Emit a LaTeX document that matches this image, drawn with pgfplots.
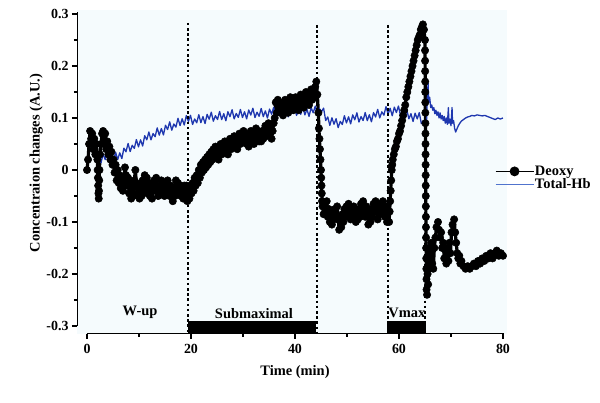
\documentclass[border=0pt]{standalone}
\usepackage{pgfplots}
\pgfplotsset{compat=1.18}
\usepackage{pgfplotstable}
\usepackage{fontspec}
\setmainfont{Liberation Serif}
\definecolor{bgtint}{RGB}{245,251,253}
\definecolor{hbblue}{RGB}{30,55,175}
\definecolor{legblue}{RGB}{80,115,205}

\pgfplotstableread{
t v
0 0.00
0.2 0.02
0.4 0.05
0.6 0.075
0.8 0.06
1.0 0.07
1.2 0.04
1.4 0.06
1.6 0.03
1.8 0.05
2.0 0.02
2.05 0.0
2.1 -0.015
2.15 -0.03
2.2 -0.045
2.25 -0.055
2.3 -0.04
2.35 -0.02
2.4 0.0
2.5 0.03
2.7 0.05
2.9 0.07
3.1 0.075
3.3 0.05
3.5 0.07
3.7 0.04
3.9 0.055
4.1 0.03
4.3 0.045
4.5 0.02
4.7 0.035
4.9 0.01
5.1 0.02
5.3 -0.005
5.5 0.01
5.7 -0.02
5.9 0.0
6.1 -0.025
6.3 -0.01
6.5 -0.035
6.7 -0.015
6.9 -0.04
7.1 -0.02
7.3 0.005
7.5 -0.01
7.7 -0.03
7.9 -0.015
8.1 -0.045
8.3 -0.025
8.5 -0.055
8.7 -0.03
8.9 -0.05
9.1 -0.02
9.3 0.0
9.5 -0.025
9.7 -0.045
9.9 -0.03
10.1 -0.055
10.3 -0.035
10.5 -0.05
10.7 -0.02
10.9 -0.04
11.1 -0.01
11.3 -0.03
11.5 -0.015
11.7 -0.045
11.9 -0.025
12.1 -0.05
12.3 -0.03
12.5 -0.055
12.7 -0.035
12.9 -0.02
13.1 -0.04
13.3 -0.015
13.5 -0.035
13.7 -0.05
13.9 -0.03
14.1 -0.045
14.3 -0.02
14.5 -0.04
14.7 -0.025
14.9 -0.05
15.1 -0.03
15.3 -0.045
15.5 -0.02
15.7 -0.035
15.9 -0.05
16.1 -0.03
16.3 -0.04
16.5 -0.06
16.7 -0.04
16.9 -0.05
17.1 -0.02
17.3 -0.04
17.5 -0.025
17.7 -0.045
17.9 -0.03
18.1 -0.05
18.3 -0.035
18.5 -0.055
18.7 -0.03
18.9 -0.05
19.1 -0.03
19.3 -0.06
19.5 -0.04
19.7 -0.055
19.9 -0.03
20.1 -0.045
20.3 -0.025
20.5 -0.04
20.7 -0.015
20.9 -0.03
21.1 -0.01
21.3 -0.025
21.5 0.0
21.7 -0.015
21.9 0.01
22.1 -0.005
22.3 0.015
22.5 0.0
22.7 0.02
22.9 0.005
23.1 0.025
23.3 0.01
23.5 0.03
23.7 0.015
23.9 0.035
24.1 0.02
24.3 0.04
24.5 0.025
24.7 0.045
24.9 0.025
25.1 0.04
25.3 0.02
25.5 0.035
25.7 0.05
25.9 0.03
26.1 0.05
26.3 0.035
26.5 0.055
26.7 0.04
26.9 0.05
27.1 0.03
27.3 0.045
27.5 0.06
27.7 0.04
27.9 0.06
28.1 0.045
28.3 0.065
28.5 0.05
28.7 0.06
28.9 0.04
29.1 0.055
29.3 0.07
29.5 0.05
29.7 0.07
29.9 0.055
30.1 0.075
30.3 0.055
30.5 0.07
30.7 0.05
30.9 0.065
31.1 0.045
31.3 0.06
31.5 0.075
31.7 0.055
31.9 0.07
32.1 0.05
32.3 0.065
32.5 0.08
32.7 0.06
32.9 0.075
33.1 0.055
33.3 0.07
33.5 0.055
33.7 0.075
33.9 0.06
34.1 0.07
34.3 0.085
34.5 0.065
34.7 0.08
34.9 0.09
35.1 0.07
35.3 0.08
35.5 0.06
35.7 0.075
35.9 0.09
36.1 0.1
36.3 0.13
36.5 0.11
36.7 0.135
36.9 0.115
37.1 0.13
37.3 0.11
37.5 0.125
37.7 0.105
37.9 0.12
38.1 0.135
38.3 0.115
38.5 0.13
38.7 0.11
38.9 0.125
39.1 0.14
39.3 0.12
39.5 0.135
39.7 0.115
39.9 0.13
40.1 0.14
40.3 0.12
40.5 0.135
40.7 0.115
40.9 0.13
41.1 0.145
41.3 0.125
41.5 0.14
41.7 0.12
41.9 0.135
42.1 0.15
42.3 0.13
42.5 0.145
42.7 0.125
42.9 0.14
43.1 0.155
43.3 0.135
43.5 0.15
43.7 0.14
43.9 0.16
44.1 0.17
44.3 0.145
44.5 0.11
44.6 0.08
44.7 0.06
44.8 0.04
44.9 0.02
45.0 0.0
45.05 -0.015
45.1 -0.03
45.15 -0.045
45.2 -0.06
45.3 -0.07
45.5 -0.085
45.7 -0.065
45.9 -0.08
46.1 -0.06
46.3 -0.09
46.5 -0.075
46.7 -0.1
46.9 -0.08
47.1 -0.105
47.3 -0.085
47.5 -0.095
47.7 -0.075
47.9 -0.09
48.1 -0.07
48.3 -0.095
48.5 -0.115
48.7 -0.09
48.9 -0.11
49.1 -0.085
49.3 -0.1
49.5 -0.075
49.7 -0.09
49.9 -0.07
50.1 -0.085
50.3 -0.065
50.5 -0.08
50.7 -0.095
50.9 -0.075
51.1 -0.09
51.3 -0.07
51.5 -0.085
51.7 -0.1
51.9 -0.08
52.1 -0.095
52.3 -0.075
52.5 -0.09
52.7 -0.065
52.9 -0.08
53.1 -0.06
53.3 -0.075
53.5 -0.09
53.7 -0.07
53.9 -0.085
54.1 -0.105
54.3 -0.08
54.5 -0.1
54.7 -0.075
54.9 -0.09
55.1 -0.065
55.3 -0.08
55.5 -0.06
55.7 -0.075
55.9 -0.095
56.1 -0.07
56.3 -0.085
56.5 -0.065
56.7 -0.08
56.9 -0.06
57.1 -0.075
57.3 -0.09
57.5 -0.07
57.7 -0.1
57.9 -0.08
58.1 -0.1
58.2 -0.08
58.3 -0.06
58.4 -0.04
58.5 -0.02
58.6 0.0
58.7 0.01
58.8 0.02
59.0 0.03
59.2 0.04
59.4 0.045
59.6 0.055
59.8 0.06
60.0 0.07
60.2 0.075
60.4 0.085
60.6 0.095
60.8 0.105
61.0 0.115
61.2 0.125
61.4 0.14
61.6 0.15
61.8 0.16
62.0 0.17
62.2 0.18
62.4 0.19
62.6 0.2
62.8 0.21
63.0 0.22
63.2 0.23
63.4 0.24
63.6 0.25
63.8 0.255
64.0 0.26
64.2 0.27
64.4 0.275
64.6 0.28
64.8 0.27
65.00 0.25
65.01 0.23
65.02 0.21
65.03 0.19
65.04 0.17
65.05 0.15
65.06 0.13
65.07 0.11
65.08 0.09
65.09 0.07
65.10 0.05
65.11 0.03
65.12 0.01
65.13 -0.01
65.14 -0.03
65.15 -0.05
65.16 -0.07
65.17 -0.09
65.18 -0.11
65.2 -0.13
65.22 -0.15
65.24 -0.17
65.26 -0.19
65.28 -0.21
65.3 -0.23
65.4 -0.24
65.5 -0.2
65.6 -0.22
65.7 -0.17
65.8 -0.19
65.9 -0.15
66.0 -0.17
66.2 -0.14
66.4 -0.18
66.6 -0.19
66.8 -0.15
67.0 -0.13
67.2 -0.11
67.5 -0.1
67.7 -0.115
67.9 -0.13
68.1 -0.12
68.3 -0.15
68.5 -0.14
68.7 -0.17
68.9 -0.15
69.1 -0.18
69.3 -0.16
69.5 -0.175
69.7 -0.14
69.9 -0.16
70.1 -0.12
70.3 -0.105
70.6 -0.095
70.8 -0.12
71.0 -0.14
71.2 -0.16
71.4 -0.17
71.6 -0.165
71.8 -0.18
72.0 -0.175
72.4 -0.185
72.8 -0.19
73.2 -0.185
73.6 -0.19
74.0 -0.185
74.4 -0.18
74.8 -0.185
75.2 -0.175
75.6 -0.18
76.0 -0.17
76.4 -0.175
76.8 -0.165
77.2 -0.17
77.6 -0.16
78.0 -0.17
78.4 -0.16
78.8 -0.155
79.2 -0.165
79.6 -0.16
80.0 -0.165
}\deoxy

\pgfplotstableread{
t v
1.5 0.034
1.9 0.018
2.3 0.028
2.7 0.014
3.1 0.031
3.5 0.020
3.9 0.033
4.3 0.015
4.7 0.024
5.1 0.017
5.5 0.034
5.9 0.020
6.3 0.033
6.7 0.022
7.1 0.042
7.5 0.035
7.9 0.051
8.3 0.0355
8.7 0.0475
9.1 0.0415
9.5 0.0585
9.9 0.0445
10.3 0.058
10.7 0.046
11.1 0.066
11.5 0.058
11.9 0.073
12.3 0.058
12.7 0.070
13.1 0.064
13.5 0.081
13.9 0.067
14.3 0.0797
14.7 0.0674
15.1 0.0861
15.5 0.0778
15.9 0.0926
16.3 0.0765
16.7 0.0885
17.1 0.0825
17.5 0.0995
17.9 0.0855
18.3 0.0985
18.7 0.0865
19.1 0.1047
19.5 0.0935
19.9 0.1053
20.3 0.0875
20.7 0.0981
21.1 0.0908
21.5 0.1064
21.9 0.091
22.3 0.1027
22.7 0.0893
23.1 0.107
23.5 0.0976
23.9 0.1112
24.3 0.0939
24.7 0.1045
25.1 0.0971
25.5 0.1125
25.9 0.0969
26.3 0.1083
26.7 0.0947
27.1 0.1121
27.5 0.1025
27.9 0.1159
28.3 0.0983
28.7 0.1087
29.1 0.1011
29.5 0.1165
29.9 0.1009
30.3 0.1121
30.7 0.0983
31.1 0.1154
31.5 0.1056
31.9 0.1188
32.3 0.1009
32.7 0.1111
33.1 0.1032
33.5 0.1184
33.9 0.1026
34.3 0.1137
34.7 0.0999
35.1 0.1171
35.5 0.1073
35.9 0.1205
36.3 0.1028
36.7 0.113
37.1 0.1053
37.5 0.1205
37.9 0.1047
38.3 0.116
38.7 0.1022
39.1 0.1195
39.5 0.1097
39.9 0.1229
40.3 0.105
40.7 0.115
41.1 0.107
41.5 0.122
41.9 0.106
42.3 0.117
42.7 0.103
43.1 0.120
43.5 0.110
43.9 0.123
44.3 0.105
44.7 0.118
45.1 0.112
45.5 0.119
45.9 0.095
46.3 0.102
46.7 0.0858
47.1 0.1004
47.5 0.088
47.9 0.0986
48.3 0.0815
48.7 0.0935
49.1 0.0875
49.5 0.1045
49.9 0.0905
50.3 0.1023
50.7 0.0887
51.1 0.1061
51.5 0.0965
51.9 0.1099
52.3 0.0923
52.7 0.1027
53.1 0.0951
53.5 0.1105
53.9 0.0949
54.3 0.1063
54.7 0.0927
55.1 0.1104
55.5 0.102
55.9 0.1166
56.3 0.1002
56.7 0.1118
57.1 0.1054
57.5 0.122
57.9 0.1076
58.3 0.1187
58.7 0.1043
59.1 0.1209
59.5 0.1105
59.9 0.1231
60.3 0.1038
60.7 0.1122
61.1 0.1026
61.5 0.116
61.9 0.0984
62.3 0.1083
62.7 0.0933
63.1 0.1093
63.5 0.0983
63.9 0.1103
64.3 0.089
64.7 0.095
65.1 0.088
65.3 0.095
65.5 0.15
65.6 0.167
65.7 0.13
65.9 0.14
66.1 0.12
66.3 0.125
66.5 0.115
66.7 0.12
66.9 0.108
67.1 0.115
67.3 0.105
67.5 0.112
67.7 0.1
67.9 0.11
68.1 0.098
68.3 0.105
68.5 0.095
68.7 0.103
68.9 0.09
69.1 0.1
69.3 0.088
69.5 0.12
69.6 0.09
69.8 0.098
70.0 0.085
70.2 0.12
70.3 0.09
70.5 0.095
70.7 0.08
70.9 0.073
71.1 0.078
71.4 0.085
71.7 0.09
72.0 0.094
72.4 0.097
72.8 0.1
73.2 0.102
73.6 0.103
74.0 0.105
74.5 0.104
75.0 0.106
75.5 0.105
76.0 0.104
76.5 0.105
77.0 0.103
77.5 0.101
78.0 0.099
78.5 0.097
79.0 0.1
79.5 0.098
80.0 0.1
}\totalhb

\begin{document}
\begin{tikzpicture}[font=\fontsize{14.5}{16}\selectfont\bfseries]
\path[use as bounding box] (0,0) rectangle (600bp,403bp);
\begin{axis}[
  at={(77bp,69bp)}, anchor=south west,
  scale only axis, width=430bp, height=324bp,
  xmin=-1.923, xmax=80.77, ymin=-0.3154, ymax=0.3077,
  axis line style={draw=none},
  axis background/.style={fill=bgtint},
  xtick={0,20,40,60,80}, xticklabels={0,20,40,60,80},
  minor xtick={10,30,50,70},
  ytick={-0.3,-0.2,-0.1,0,0.1,0.2,0.3},
  yticklabels={-0.3,-0.2,-0.1,0,0.1,0.2,0.3},
  minor ytick={-0.25,-0.15,-0.05,0.05,0.15,0.25},
  xtick pos=bottom, ytick pos=left, tick align=outside,
  major tick length=5bp, minor tick length=3bp,
  every tick/.style={black, line width=1.3bp},
  xticklabel style={font=\fontsize{14}{16}\selectfont\bfseries, yshift=-2bp},
  yticklabel style={font=\fontsize{14}{16}\selectfont\bfseries},
  xlabel={Time (min)},
  ylabel={Concentraion changes (A.U.)},
  xlabel style={at={(axis description cs:0.507,-0.116)}, anchor=center},
  ylabel style={at={(axis description cs:-0.095,0.528)}, anchor=center},
  legend style={at={(axis description cs:0.972,0.481)}, anchor=west,
    draw=none, fill=none, inner sep=0pt, row sep=0pt,
    font=\fontsize{14.5}{16}\selectfont\bfseries,
    nodes={inner sep=1bp}},
  legend cell align=left,
  legend image code/.code={\draw[mark repeat=2,mark phase=2,#1] plot coordinates {(0bp,0bp) (19bp,0bp) (38bp,0bp)};},
]
% Deoxy
\addplot[black, line width=3.2bp, line join=round, line cap=round, mark=*, mark size=3.7bp, mark options={fill=black, draw=black, line width=0.5bp}, forget plot] table[x=t,y=v] {\deoxy};
% Total-Hb
\addplot[hbblue, line width=1.3bp, line join=round, forget plot] table[x=t,y=v] {\totalhb};
% axis lines
\draw[black, line width=2bp] (axis cs:-1.923,-0.3) -- (axis cs:-1.923,0.304);
\draw[black, line width=2bp] (axis cs:0,-0.3154) -- (axis cs:80.1,-0.3154);
% phase markers
\draw[black, line width=2bp, dash pattern=on 2.6bp off 2.6bp] (axis cs:19.4,0.283) -- (axis cs:19.4,-0.3154);
\draw[black, line width=2bp, dash pattern=on 2.6bp off 2.6bp] (axis cs:44.3,0.279) -- (axis cs:44.3,-0.3154);
\draw[black, line width=2bp, dash pattern=on 2.6bp off 2.6bp] (axis cs:57.9,0.279) -- (axis cs:57.9,-0.3154);
\draw[black, line width=2bp, dash pattern=on 2.6bp off 2.6bp] (axis cs:65.0,0.279) -- (axis cs:65.0,-0.3154);
\fill[black] (axis cs:19.36,-0.3154) rectangle (axis cs:44.0,-0.2898);
\fill[black] (axis cs:57.7,-0.3154) rectangle (axis cs:65.2,-0.2898);
\node at (axis cs:10.2,-0.274) {W-up};
\node at (axis cs:32.1,-0.277) {Submaximal};
\node at (axis cs:61.5,-0.275) {Vmax};
% legend
\addlegendimage{black, line width=0.8bp, mark=*, mark size=4.5bp, mark options={fill=black}}
\addlegendentry{Deoxy}
\addlegendimage{legblue, line width=0.8bp}
\addlegendentry{Total-Hb}
\end{axis}
\end{tikzpicture}
\end{document}
